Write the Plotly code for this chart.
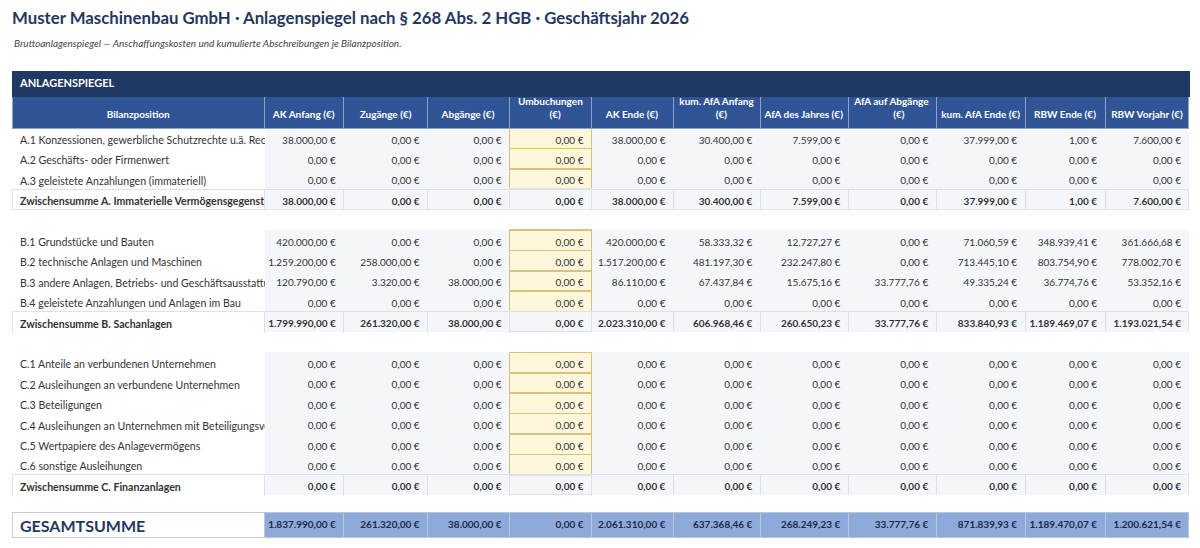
import plotly.graph_objects as go

W, H = 1184, 532   # page body keeps an 8px margin, so the figure is 16px smaller
NAVY = "#1f3864"
BLUE = "#2f5597"
ROW_BG = "#f4f6fa"
UMB_BG = "#fff7dc"
UMB_LINE = "#d8c27e"
SUB_LINE = "#dde1e8"
TOTAL_BG = "#8eaadb"
TOTAL_LINE = "#c6ccd6"
CLEAR = "rgba(0,0,0,0)"

title = "Muster Maschinenbau GmbH · Anlagenspiegel nach § 268 Abs. 2 HGB · Geschäftsjahr 2026"
subtitle = "Bruttoanlagenspiegel — Anschaffungskosten und kumulierte Abschreibungen je Bilanzposition."
band_title = "ANLAGENSPIEGEL"

columns = [
    "Bilanzposition", "AK Anfang (€)", "Zugänge (€)", "Abgänge (€)", "Umbuchungen<br>(€)",
    "AK Ende (€)", "kum. AfA Anfang<br>(€)", "AfA des Jahres (€)", "AfA auf Abgänge<br>(€)",
    "kum. AfA Ende (€)", "RBW Ende (€)", "RBW Vorjahr (€)",
]
col_widths = [253, 79, 84, 82, 82, 82, 87, 88, 88, 89, 80, 84]
# nbsp count that centres the short second header line under the first one
second_line_pad = {"Umbuchungen<br>(€)": 13, "kum. AfA Anfang<br>(€)": 15, "AfA auf Abgänge<br>(€)": 16}

positions = [
    "A.1 Konzessionen, gewerbliche Schutzrechte u.ä. Rechte und Werte",
    "A.2 Geschäfts- oder Firmenwert",
    "A.3 geleistete Anzahlungen (immateriell)",
    "Zwischensumme A. Immaterielle Vermögensgegenstände",
    "",
    "B.1 Grundstücke und Bauten",
    "B.2 technische Anlagen und Maschinen",
    "B.3 andere Anlagen, Betriebs- und Geschäftsausstattung",
    "B.4 geleistete Anzahlungen und Anlagen im Bau",
    "Zwischensumme B. Sachanlagen",
    "",
    "C.1 Anteile an verbundenen Unternehmen",
    "C.2 Ausleihungen an verbundene Unternehmen",
    "C.3 Beteiligungen",
    "C.4 Ausleihungen an Unternehmen mit Beteiligungsverhältnis",
    "C.5 Wertpapiere des Anlagevermögens",
    "C.6 sonstige Ausleihungen",
    "Zwischensumme C. Finanzanlagen",
    "",
    "GESAMTSUMME",
]
row_kind = (["item"] * 3 + ["sub", "blank"] + ["item"] * 4 + ["sub", "blank"]
            + ["item"] * 6 + ["sub", "blank", "total"])

N = None
ak_anfang = [38000, 0, 0, 38000, N, 420000, 1259200, 120790, 0, 1799990, N,
             0, 0, 0, 0, 0, 0, 0, N, 1837990]
zugaenge = [0, 0, 0, 0, N, 0, 258000, 3320, 0, 261320, N,
            0, 0, 0, 0, 0, 0, 0, N, 261320]
abgaenge = [0, 0, 0, 0, N, 0, 0, 38000, 0, 38000, N,
            0, 0, 0, 0, 0, 0, 0, N, 38000]
umbuchungen = [0, 0, 0, 0, N, 0, 0, 0, 0, 0, N,
               0, 0, 0, 0, 0, 0, 0, N, 0]
ak_ende = [38000, 0, 0, 38000, N, 420000, 1517200, 86110, 0, 2023310, N,
           0, 0, 0, 0, 0, 0, 0, N, 2061310]
afa_anfang = [30400, 0, 0, 30400, N, 58333.32, 481197.30, 67437.84, 0, 606968.46, N,
              0, 0, 0, 0, 0, 0, 0, N, 637368.46]
afa_jahr = [7599, 0, 0, 7599, N, 12727.27, 232247.80, 15675.16, 0, 260650.23, N,
            0, 0, 0, 0, 0, 0, 0, N, 268249.23]
afa_abgang = [0, 0, 0, 0, N, 0, 0, 33777.76, 0, 33777.76, N,
              0, 0, 0, 0, 0, 0, 0, N, 33777.76]
afa_ende = [37999, 0, 0, 37999, N, 71060.59, 713445.10, 49335.24, 0, 833840.93, N,
            0, 0, 0, 0, 0, 0, 0, N, 871839.93]
rbw_ende = [1, 0, 0, 1, N, 348939.41, 803754.90, 36774.76, 0, 1189469.07, N,
            0, 0, 0, 0, 0, 0, 0, N, 1189470.07]
rbw_vorjahr = [7600, 0, 0, 7600, N, 361666.68, 778002.70, 53352.16, 0, 1193021.54, N,
               0, 0, 0, 0, 0, 0, 0, N, 1200621.54]

value_cols = [ak_anfang, zugaenge, abgaenge, umbuchungen, ak_ende, afa_anfang,
              afa_jahr, afa_abgang, afa_ende, rbw_ende, rbw_vorjahr]


def px_x(x):
    return (x - 8) / W


def px_y(y):
    return 1 - (y - 8) / H


def eur(v):
    if v is None:
        return ""
    s = f"{v:,.2f}".replace(",", "X").replace(".", ",").replace("X", ".")
    return s + " €"


def nb(t):
    # no plain spaces -> plotly neither wraps nor re-measures the cell
    return t.replace(" ", "\u00a0")


def header_label(h):
    if "<br>" in h:
        first, second = h.split("<br>")
        return nb(first) + "<br>" + "\u00a0" * second_line_pad.get(h, 0) + nb(second)
    return "\u00a0<br>" + nb(h)


body = slice(0, len(positions) - 1)      # GESAMTSUMME gets its own strip
kinds = row_kind[body]

cells_values = [[nb(p) for p in positions[body]]]
for col in value_cols:
    cells_values.append([nb(eur(v)) for v in col[body]])

fills, lines, sizes, weights = [], [], [], []
for ci in range(len(columns)):
    f, l, s, w = [], [], [], []
    for k in kinds:
        if ci == 0:
            f.append("white")
            l.append(SUB_LINE if k == "sub" else CLEAR)
            s.append(10.6)
        else:
            if k == "blank":
                f.append("white"); l.append(CLEAR)
            elif k == "sub":
                f.append(ROW_BG); l.append(SUB_LINE)
            elif ci == 4:
                f.append(UMB_BG); l.append(UMB_LINE)
            else:
                f.append(ROW_BG); l.append(CLEAR)
            s.append(10)
        w.append("bold" if k == "sub" else "normal")
    fills.append(f); lines.append(l); sizes.append(s); weights.append(w)

table = go.Table(
    domain=dict(x=[px_x(12), px_x(1189)], y=[0, px_y(87)]),
    columnwidth=col_widths,
    header=dict(
        values=[header_label(h) for h in columns],
        fill_color=BLUE,
        line=dict(color="#8ea3c8", width=1),
        align="center",
        font=dict(family="Lato", color="white", size=10, weight="bold"),
        height=30,
    ),
    cells=dict(
        values=cells_values,
        fill_color=fills,
        line=dict(color=lines, width=[1, 1, 1, 1, 1.5] + [1] * 7),
        align=["left"] + ["right"] * (len(columns) - 1),
        font=dict(family="Lato", size=[10.6] + [10] * 11, color="#333333", weight="normal"),
        height=20.4,
    ),
)

band = go.Table(
    domain=dict(x=[px_x(12), px_x(1189)], y=[px_y(98), px_y(71)]),
    header=dict(
        values=[band_title],
        fill_color=NAVY,
        line=dict(color=NAVY, width=1),
        align="left",
        font=dict(family="Lato", color="white", size=11, weight="bold"),
        height=26,
    ),
    cells=dict(values=[[""]], height=1, fill_color=NAVY, line=dict(color=NAVY, width=0)),
)

total = go.Table(
    domain=dict(x=[px_x(12), px_x(1189)], y=[px_y(538), px_y(512)]),
    columnwidth=col_widths,
    header=dict(
        values=[nb(positions[-1])] + [nb(eur(col[-1])) for col in value_cols],
        fill_color=["white"] + [TOTAL_BG] * 11,
        line=dict(color=[TOTAL_LINE] + ["#b9c6de"] * 11, width=1),
        align=["left"] + ["right"] * 11,
        font=dict(family="Lato", color=[NAVY] + ["#1e2a44"] * 11,
                  size=[16] + [10] * 11, weight="bold"),
        height=25,
    ),
    cells=dict(values=[[""]] * 12, height=1, fill_color="white", line=dict(color=CLEAR, width=0)),
)

fig = go.Figure([table, band, total])

# per-cell font size / weight (plotly.js takes 2D arrays, the python validator only 1D)
cell_font = fig.data[0].cells.font._props
cell_font["size"] = sizes
cell_font["weight"] = weights

fig.update_layout(
    width=W,
    height=H,
    paper_bgcolor="white",
    margin=dict(l=0, r=0, t=0, b=0),
    title=dict(
        text=f"<b>{title}</b>",
        font=dict(family="Lato", size=16.8, color=NAVY),
        x=px_x(12), xanchor="left", xref="paper",
        y=px_y(18), yanchor="middle", yref="container",
    ),
    annotations=[
        dict(
            text=f"<i>{subtitle}</i>",
            x=px_x(12), xanchor="left", xref="paper",
            y=px_y(43), yanchor="middle", yref="paper",
            showarrow=False, font=dict(family="Lato", size=10, color="#444444"),
        )
    ],
)

fig.write_html("out.html")
